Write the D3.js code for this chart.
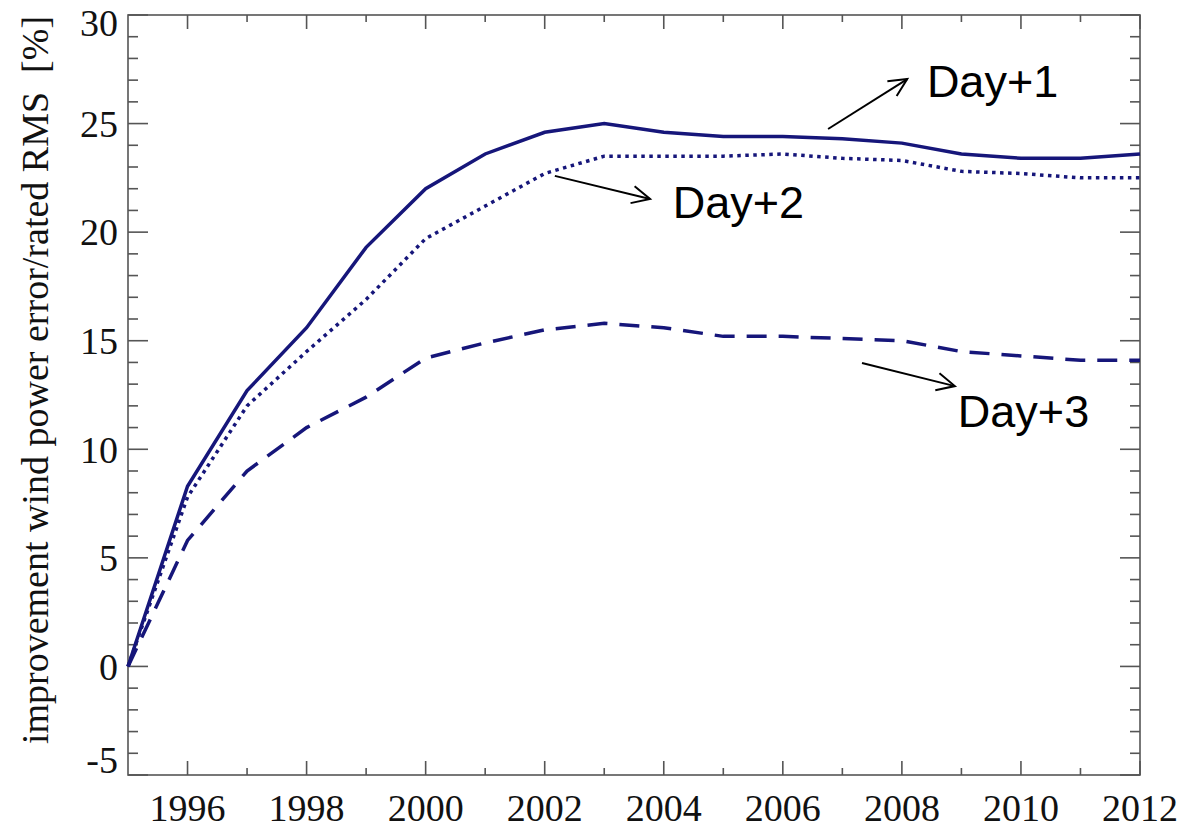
<!DOCTYPE html>
<html><head><meta charset="utf-8">
<script src="https://cdn.jsdelivr.net/npm/d3@7"></script>
<style>html,body{margin:0;padding:0;background:#fff;}svg{display:block;}</style>
</head><body>
<svg id="chart" width="1184" height="829"></svg>
<script>
const years = [1995,1996,1997,1998,1999,2000,2001,2002,2003,2004,2005,2006,2007,2008,2009,2010,2011,2012];
const day1 = [0,8.3,12.7,15.6,19.3,22.0,23.6,24.6,25.0,24.6,24.4,24.4,24.3,24.1,23.6,23.4,23.4,23.6];
const day2 = [0,7.8,12.0,14.5,16.9,19.7,21.2,22.7,23.5,23.5,23.5,23.6,23.4,23.3,22.8,22.7,22.5,22.5];
const day3 = [0,5.8,9.0,11.0,12.4,14.2,14.9,15.5,15.8,15.6,15.2,15.2,15.1,15.0,14.5,14.3,14.1,14.1];
const xTicks = [1996,1998,2000,2002,2004,2006,2008,2010,2012];
const yTicks = [-5,0,5,10,15,20,25,30];
const yLabel = "improvement wind power error/rated RMS\u00a0\u00a0[%]";
const annotations = [
  {text:"Day+1", from:[2006.76,24.75], to:[2008.09,27.05], tx:2008.42, ty:26.22},
  {text:"Day+2", from:[2002.17,22.59], to:[2003.77,21.53], tx:2004.15, ty:20.65},
  {text:"Day+3", from:[2007.33,13.97], to:[2008.89,12.91], tx:2008.94, ty:11.03}
];

const svg = d3.select("#chart");
const L=128, R=1140, T=15, B=775;
const x = d3.scaleLinear().domain([1995,2012]).range([L,R]);
const y = d3.scaleLinear().domain([-5,30]).range([B,T]);
const axisColor = "#555";
const lineColor = "#16167a";

// frame
svg.append("rect").attr("x",L).attr("y",T).attr("width",R-L).attr("height",B-T)
  .attr("fill","none").attr("stroke",axisColor).attr("stroke-width",1.6);

// x ticks (bottom + top)
const xMinor = d3.range(1995,2013,1).filter(v=>v%2===1 && v>1995 && v<2012);
const gx = svg.append("g").attr("stroke",axisColor).attr("stroke-width",1.6);
xTicks.forEach(v=>{
  gx.append("line").attr("x1",x(v)).attr("x2",x(v)).attr("y1",B).attr("y2",B-14);
  gx.append("line").attr("x1",x(v)).attr("x2",x(v)).attr("y1",T).attr("y2",T+14);
});
xMinor.forEach(v=>{
  gx.append("line").attr("x1",x(v)).attr("x2",x(v)).attr("y1",B).attr("y2",B-7);
  gx.append("line").attr("x1",x(v)).attr("x2",x(v)).attr("y1",T).attr("y2",T+7);
});
// y ticks
const yMinor = d3.range(-5,31,1).filter(v=>v%5!==0);
yTicks.forEach(v=>{
  gx.append("line").attr("x1",L).attr("x2",L+20).attr("y1",y(v)).attr("y2",y(v));
  gx.append("line").attr("x1",R).attr("x2",R-20).attr("y1",y(v)).attr("y2",y(v));
});
yMinor.forEach(v=>{
  gx.append("line").attr("x1",L).attr("x2",L+10).attr("y1",y(v)).attr("y2",y(v));
  gx.append("line").attr("x1",R).attr("x2",R-10).attr("y1",y(v)).attr("y2",y(v));
});

const serif = "'Liberation Serif','Times New Roman',serif";
// x labels
svg.append("g").selectAll("text").data(xTicks).join("text")
  .attr("x",d=>x(d)).attr("y",B+46).attr("text-anchor","middle")
  .attr("font-family",serif).attr("font-size",38).attr("fill","#111").text(d=>d);
// y labels
svg.append("g").selectAll("text").data(yTicks).join("text")
  .attr("x",L-10).attr("y",d=>y(d)+ (d===30?8:(d===-5?-15:0)))
  .attr("dy","0.35em").attr("text-anchor","end")
  .attr("font-family",serif).attr("font-size",38).attr("fill","#111").text(d=>d);
// y axis title
svg.append("text").attr("transform","translate(48,380) rotate(-90)")
  .attr("text-anchor","middle").attr("font-family",serif).attr("font-size",38)
  .attr("fill","#111").text(yLabel);

// lines
const line = d3.line().x((d,i)=>x(years[i])).y(d=>y(d));
svg.append("path").datum(day1).attr("d",line).attr("fill","none")
  .attr("stroke",lineColor).attr("stroke-width",3.5);
svg.append("path").datum(day2).attr("d",line).attr("fill","none")
  .attr("stroke",lineColor).attr("stroke-width",3.5).attr("stroke-dasharray","3.5 4.5");
svg.append("path").datum(day3).attr("d",line).attr("fill","none")
  .attr("stroke",lineColor).attr("stroke-width",3.5).attr("stroke-dasharray","20 12");

// annotations
const ag = svg.append("g");
annotations.forEach(a=>{
  const x1=x(a.from[0]), y1=y(a.from[1]), x2=x(a.to[0]), y2=y(a.to[1]);
  ag.append("line").attr("x1",x1).attr("y1",y1).attr("x2",x2).attr("y2",y2)
    .attr("stroke","#000").attr("stroke-width",2);
  const ang = Math.atan2(y2-y1,x2-x1), hl=20, ha=0.45;
  const p1=[x2-hl*Math.cos(ang-ha), y2-hl*Math.sin(ang-ha)];
  const p2=[x2-hl*Math.cos(ang+ha), y2-hl*Math.sin(ang+ha)];
  ag.append("path").attr("d",`M${p1[0]},${p1[1]}L${x2},${y2}L${p2[0]},${p2[1]}`)
    .attr("fill","none").attr("stroke","#000").attr("stroke-width",2);
  ag.append("text").attr("x",x(a.tx)).attr("y",y(a.ty))
    .attr("font-family","'Liberation Sans',Arial,sans-serif").attr("font-size",45)
    .attr("fill","#000").text(a.text);
});
</script>
</body></html>
